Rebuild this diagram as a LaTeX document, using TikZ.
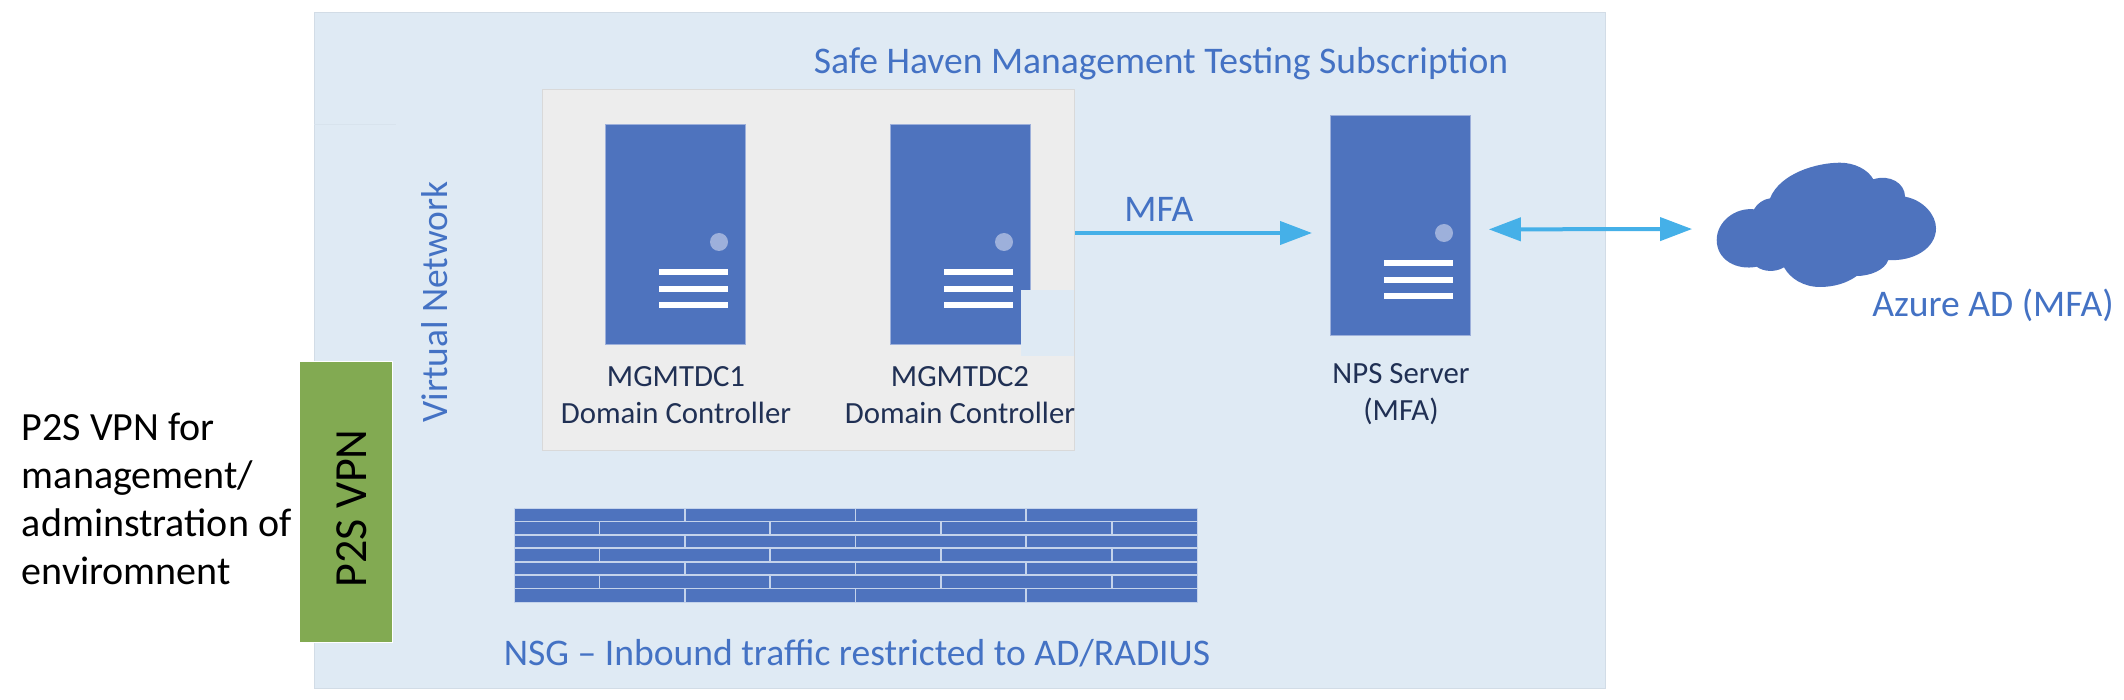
\documentclass[tikz,border=0pt]{standalone}
\usepackage{fontspec}
\setmainfont{Carlito}
\usetikzlibrary{arrows.meta}
\definecolor{PanelBlue}{RGB}{223,234,244}
\definecolor{PanelEdge}{RGB}{210,220,230}
\definecolor{GreyBox}{RGB}{237,237,237}
\definecolor{GreyEdge}{RGB}{217,217,217}
\definecolor{ServerBlue}{RGB}{78,115,190}
\definecolor{LedBlue}{RGB}{157,176,219}
\definecolor{WallLine}{RGB}{196,211,235}
\definecolor{TextBlue}{RGB}{68,114,196}
\definecolor{TextNavy}{RGB}{32,48,84}
\definecolor{ArrowBlue}{RGB}{69,176,232}
\definecolor{VpnGreen}{RGB}{130,170,82}
\begin{document}
\begin{tikzpicture}[
x=0.5pt, y=-0.5pt,
server/.style={rectangle, fill=ServerBlue, draw=LedBlue, line width=0.4pt, minimum width=70pt, minimum height=110pt, inner sep=0pt, anchor=north west},
led/.style={circle, fill=LedBlue, minimum size=9pt, inner sep=0pt},
bar/.style={rectangle, fill=white, minimum width=34.5pt, minimum height=2.7pt, inner sep=0pt, anchor=west},
srvlabel/.style={text=TextNavy, font=\fontsize{15.4}{18.8}\selectfont, align=center, inner sep=0pt},
bluelabel/.style={text=TextBlue, font=\fontsize{18.8}{22}\selectfont, inner sep=0pt},
arr/.style={-{Triangle[length=16pt,width=11.5pt]}, line width=2pt, draw=ArrowBlue},
duo/.style={{Triangle[length=16pt,width=11.5pt]}-{Triangle[length=16pt,width=11.5pt]}, line width=2pt, draw=ArrowBlue}
]
\useasboundingbox (0,0) rectangle (2124,700);

% panels
\node[rectangle, fill=PanelBlue, draw=PanelEdge, line width=0.5pt, minimum width=645.5pt, minimum height=338pt, inner sep=0pt, anchor=north west] (subscr) at (314,12) {};
\draw[PanelEdge!50!PanelBlue, line width=0.4pt] (subscr.west |- 0,124) -- (396,124);
\node[rectangle, fill=GreyBox, draw=GreyEdge, line width=0.5pt, minimum width=266pt, minimum height=180.5pt, inner sep=0pt, anchor=north west] (dcbox) at (542,89) {};

% servers
\node[server] (dcone) at (605,124) {};
\node[server] (dctwo) at (890,124) {};
\node[server] (nps) at (1330,115) {};
\foreach \s in {dcone,dctwo,nps} {
  \node[led] (\s-led) at ([xshift=57pt,yshift=-59pt]\s.north west) {};
  \foreach \b in {148,165,181}
    \node[bar] (\s-bar\b) at ([xshift=27pt,yshift=-\b*0.5pt]\s.north west) {};
}

% patch over the second server
\node[rectangle, fill=PanelBlue, minimum width=26.5pt, minimum height=33pt, inner sep=0pt, anchor=north west] (patch) at (1021,290) {};

\node[srvlabel] (dconelabel) at (676,395) {MGMTDC1\\Domain Controller};
\node[srvlabel] (dctwolabel) at (960,395) {MGMTDC2\\Domain Controller};
\node[srvlabel] (npslabel) at (1401,394) {NPS Server\\(MFA)};

% firewall
\node[rectangle, fill=ServerBlue, draw=WallLine, line width=0.4pt, minimum width=341.5pt, minimum height=47pt, inner sep=0pt, anchor=north west] (wall) at (514,508) {};
\foreach \r in {1,...,6}
  \draw[WallLine, line width=0.9pt] (514,508+\r*13.43) -- (1197,508+\r*13.43);
\foreach \r in {0,2,4,6}
  \foreach \c in {1,2,3}
    \draw[WallLine, line width=0.9pt] (514+\c*170.75,508+\r*13.43) -- ++(0,13.43);
\foreach \r in {1,3,5}
  \foreach \c in {0,1,2,3}
    \draw[WallLine, line width=0.9pt] (599.4+\c*170.75,508+\r*13.43) -- ++(0,13.43);

% vpn
\node[rectangle, fill=VpnGreen, draw=white, line width=0.7pt, minimum width=46.7pt, minimum height=140.5pt, inner sep=0pt, anchor=north west] (vpn) at (298.5,361) {};
\node[rotate=90, font=\fontsize{23}{26}\selectfont, inner sep=0pt] (vpnlabel) at (352,508.5) {P2S VPN};
\node[rotate=90, text=TextBlue, font=\fontsize{18.7}{22}\selectfont, inner sep=0pt] (vnet) at (435,302) {Virtual Network};

% cloud
\node[minimum width=109.5pt, minimum height=63pt, inner sep=0pt] (azure) at (1826,225) {};
\fill[ServerBlue] (1770,198.3) .. controls (1780,173.3) and (1816.7,162.7) .. (1840,162.7)
  .. controls (1855,162.7) and (1868.3,170) .. (1873.3,179.3)
  .. controls (1890,174) and (1905,183.3) .. (1905,196.7)
  .. controls (1923.3,200) and (1936,215) .. (1936,228.3)
  .. controls (1936,248.3) and (1913.3,261.7) .. (1888.3,260)
  .. controls (1885,270) and (1870,276) .. (1856.7,276)
  .. controls (1846.7,283.3) and (1833.3,287) .. (1820,287)
  .. controls (1803.3,287) and (1790,278.3) .. (1784,267.3)
  .. controls (1775,272.7) and (1763.3,271.7) .. (1756.7,266.7)
  .. controls (1736.7,270.7) and (1716.7,260) .. (1716.7,240)
  .. controls (1716.7,221.7) and (1735,207.3) .. (1754,209.3)
  .. controls (1757.3,203.3) and (1763.3,199.3) .. (1770,198.3) -- cycle;

% texts
\node[bluelabel, anchor=base] (subtitle) at (1161,74) {Safe Haven Management Testing Subscription};
\node[bluelabel, anchor=base] (nsg) at (857,665) {NSG – Inbound traffic restricted to AD/RADIUS};
\node[bluelabel, anchor=base west] (mfa) at (1124,222) {MFA};
\node[bluelabel, anchor=base west] (azurelabel) at (1872,316) {Azure AD (MFA)};
\node[align=left, anchor=base west, font=\fontsize{20}{24}\selectfont, inner sep=0pt] (vpnnote) at (21.5,584) {P2S VPN for\\management/\\adminstration of\\enviromnent};

% connectors
\draw[arr, shorten >=9pt] (dcbox.east |- nps-led) -- (nps.west |- nps-led);
\draw[duo, shorten <=9pt, shorten >=12pt] ([yshift=-2pt]nps.east) -- ([yshift=-2pt]azure.west);
\end{tikzpicture}
\end{document}
